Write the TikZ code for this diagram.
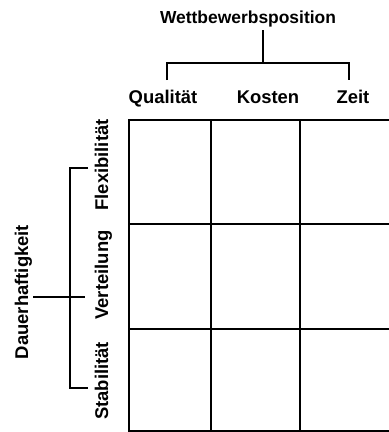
\documentclass[tikz,border=0pt]{standalone}
\usepackage{fontspec}
\setmainfont{Liberation Sans}
\begin{document}
\begin{tikzpicture}[x=1bp,y=-1bp,
  lbl/.style={font=\bfseries\fontsize{18.5}{20}\selectfont, inner sep=0pt, anchor=base},
  vlbl/.style={lbl, rotate=90},
  grid line/.style={line width=2bp, line cap=rect},
  bracket/.style={line width=1.6bp}]
\useasboundingbox (0,0) rectangle (389,432);
% top labels
\node[lbl, font=\bfseries\fontsize{17.5}{20}\selectfont] (wp) at (248,23) {Wettbewerbsposition};
\node[lbl] (qual) at (163,103) {Qualität};
\node[lbl] (kost) at (268,103) {Kosten};
\node[lbl] (zeit) at (353,103) {Zeit};
% left labels
\node[vlbl] (dauer) at (28,292) {Dauerhaftigkeit};
\node[vlbl] (flex) at (108,165) {Flexibilität};
\node[vlbl] (vert) at (108,275) {Verteilung};
\node[vlbl] (stab) at (108,381) {Stabilität};
% top bracket
\coordinate (tstem) at (263,30);
\coordinate (tmid) at (263,63);
\coordinate (tl) at (167,63);
\coordinate (tr) at (349,63);
\coordinate (tlb) at (167,80);
\coordinate (trb) at (349,80);
\draw[bracket] (tstem) -- (tmid);
\draw[bracket] (tlb) -- (tl) -- (tr) -- (trb);
% left bracket
\coordinate (lstem) at (33,297);
\coordinate (lend) at (85,297);
\coordinate (lt) at (70,168);
\coordinate (lb) at (70,388);
\coordinate (ltr) at (88,168);
\coordinate (lbr) at (88,388);
\draw[bracket] (lstem) -- (lend);
\draw[bracket] (ltr) -- (lt) -- (lb) -- (lbr);
% grid
\coordinate (g00) at (129,120);
\coordinate (g01) at (129,431);
\coordinate (g10) at (211,120);
\coordinate (g11) at (211,431);
\coordinate (g20) at (300,120);
\coordinate (g21) at (300,431);
\coordinate (h10) at (129,224);
\coordinate (h11) at (395,224);
\coordinate (h20) at (129,329);
\coordinate (h21) at (395,329);
\coordinate (ttop) at (395,120);
\coordinate (tbot) at (395,431);
\draw[grid line] (ttop) -- (g00) -- (g01) -- (tbot);
\draw[grid line] (g10) -- (g11);
\draw[grid line] (g20) -- (g21);
\draw[grid line] (h10) -- (h11);
\draw[grid line] (h20) -- (h21);
\end{tikzpicture}
\end{document}
